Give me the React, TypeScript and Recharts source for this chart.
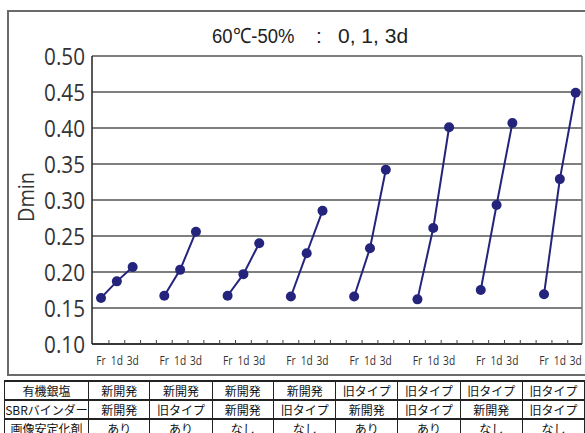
import { CartesianGrid, Line, LineChart, ReferenceLine, XAxis, YAxis } from "recharts";

const timeLabels = ["Fr", "1d", "3d"];
const frValues = [0.164, 0.167, 0.167, 0.166, 0.166, 0.162, 0.175, 0.169];
const day1Values = [0.187, 0.203, 0.197, 0.226, 0.233, 0.261, 0.293, 0.329];
const day3Values = [0.207, 0.256, 0.24, 0.285, 0.342, 0.401, 0.407, 0.449];
const yTicks = [0.1, 0.15, 0.2, 0.25, 0.3, 0.35, 0.4, 0.45, 0.5];

const rowHeaders = ["有機銀塩", "SBRバインダー", "画像安定化剤"];
const silverSalt = ["新開発", "新開発", "新開発", "新開発", "旧タイプ", "旧タイプ", "旧タイプ", "旧タイプ"];
const binder = ["新開発", "旧タイプ", "新開発", "旧タイプ", "新開発", "旧タイプ", "新開発", "旧タイプ"];
const stabilizer = ["あり", "あり", "なし", "なし", "あり", "あり", "なし", "なし"];

const SLOTS = 4; // Fr, 1d, 3d + gap
const X_MIN = -0.57;
const X_MAX = 30.4;
const NAVY = "#24247c";

// one row per slot; gap slots get null so the line breaks between groups
const data = frValues.flatMap((fr, g) => [
  { x: g * SLOTS, dmin: fr },
  { x: g * SLOTS + 1, dmin: day1Values[g] },
  { x: g * SLOTS + 2, dmin: day3Values[g] },
  { x: g * SLOTS + 3, dmin: null },
]);

// labels under points, tick marks at slot boundaries
const xTicks: number[] = [];
for (let k = 0; k < frValues.length * SLOTS; k++) {
  if (k % SLOTS !== 3) xTicks.push(k);
  if (k + 0.5 < X_MAX) xTicks.push(k + 0.5);
}

const XTick = (props: any) => {
  const { x, y, payload } = props;
  const v = payload.value as number;
  if (v % 1 !== 0) {
    return <line x1={x} x2={x} y1={y} y2={y - 4} stroke="#444" strokeWidth={1} />;
  }
  return (
    <text
      transform={`translate(${x},${y + 21}) scale(0.85,1)`}
      textAnchor="middle"
      fontSize={12}
      fontFamily="Open Sans"
      fill="#333"
    >
      {timeLabels[v % SLOTS]}
    </text>
  );
};

const YTick = (props: any) => {
  const { x, y, payload } = props;
  return (
    <text
      transform={`translate(${x},${y + 9}) scale(0.9,1)`}
      textAnchor="end"
      fontSize={23}
      fontFamily="Open Sans"
      fill="#333"
    >
      {(payload.value as number).toFixed(2)}
    </text>
  );
};

const rows = [silverSalt, binder, stabilizer];

const App = () => {
  return (
    <div
      style={{
        position: "absolute",
        left: 0,
        top: 0,
        width: 585,
        height: 433,
        overflow: "hidden",
        background: "#fff",
      }}
    >
      <div
        style={{
          position: "absolute",
          left: 7,
          top: 10,
          width: 600,
          height: 362,
          border: "2px solid #6a6a6a",
        }}
      />
      <div style={{ position: "absolute", left: 0, top: 0 }}>
        <LineChart
          width={585}
          height={380}
          data={data}
          margin={{ top: 56, right: 3, left: 0, bottom: 0 }}
        >
          <CartesianGrid vertical={false} stroke="#555" strokeWidth={1.5} />
          <XAxis
            dataKey="x"
            type="number"
            domain={[X_MIN, X_MAX]}
            allowDataOverflow
            ticks={xTicks}
            interval={0}
            tick={<XTick />}
            tickLine={false}
            tickSize={0}
            tickMargin={0}
            height={36}
            axisLine={{ stroke: "#222", strokeWidth: 1.5 }}
          />
          <YAxis
            domain={[0.1, 0.5]}
            ticks={yTicks}
            width={92}
            tick={<YTick />}
            tickLine={false}
            tickSize={0}
            tickMargin={7}
            axisLine={{ stroke: "#222", strokeWidth: 1.5 }}
          />
          <ReferenceLine x={X_MAX} stroke="#777" strokeWidth={1.5} />
          <Line
            dataKey="dmin"
            stroke={NAVY}
            strokeWidth={2}
            connectNulls={false}
            dot={{ r: 5, fill: NAVY, stroke: NAVY, strokeWidth: 0 }}
            isAnimationActive={false}
          />
        </LineChart>
      </div>
      <svg
        width={585}
        height={380}
        style={{ position: "absolute", left: 0, top: 0, pointerEvents: "none" }}
      >
        <text
          transform="translate(212,43) scale(0.88,1)"
          fontSize={21}
          fontFamily="Liberation Sans"
          fill="#222"
        >
          60℃-50%
        </text>
        <text x={316} y={43} fontSize={21} fontFamily="Liberation Sans" fill="#222">
          :
        </text>
        <text x={338} y={43} fontSize={21} fontFamily="Liberation Sans" fill="#222">
          0, 1, 3d
        </text>
        <text
          transform="translate(34,197) rotate(-90) scale(0.9,1)"
          textAnchor="middle"
          fontSize={22}
          fontFamily="Open Sans"
          fill="#333"
        >
          Dmin
        </text>
      </svg>
      <table
        style={{
          position: "absolute",
          left: 4,
          top: 380,
          borderCollapse: "collapse",
          tableLayout: "fixed",
          fontFamily: "'Noto Sans CJK JP'",
          fontSize: 12,
          color: "#111",
          borderTop: "2px solid #222",
        }}
      >
        <colgroup>
          <col style={{ width: 84 }} />
          {silverSalt.map((_, i) => (
            <col key={i} style={{ width: 63 }} />
          ))}
        </colgroup>
        <tbody>
          {rows.map((row, r) => (
            <tr key={r} style={{ height: 19 }}>
              <td
                style={{
                  border: "1px solid #222",
                  borderBottom: "2px solid #222",
                  padding: 0,
                  textAlign: "center",
                  lineHeight: "17px",
                  whiteSpace: "nowrap",
                }}
              >
                {rowHeaders[r]}
              </td>
              {row.map((cell, i) => (
                <td
                  key={i}
                  style={{
                    border: "1px solid #222",
                    borderBottom: "2px solid #222",
                    padding: 0,
                    textAlign: "center",
                    lineHeight: "17px",
                    whiteSpace: "nowrap",
                  }}
                >
                  {cell}
                </td>
              ))}
            </tr>
          ))}
        </tbody>
      </table>
    </div>
  );
};

export default App;
